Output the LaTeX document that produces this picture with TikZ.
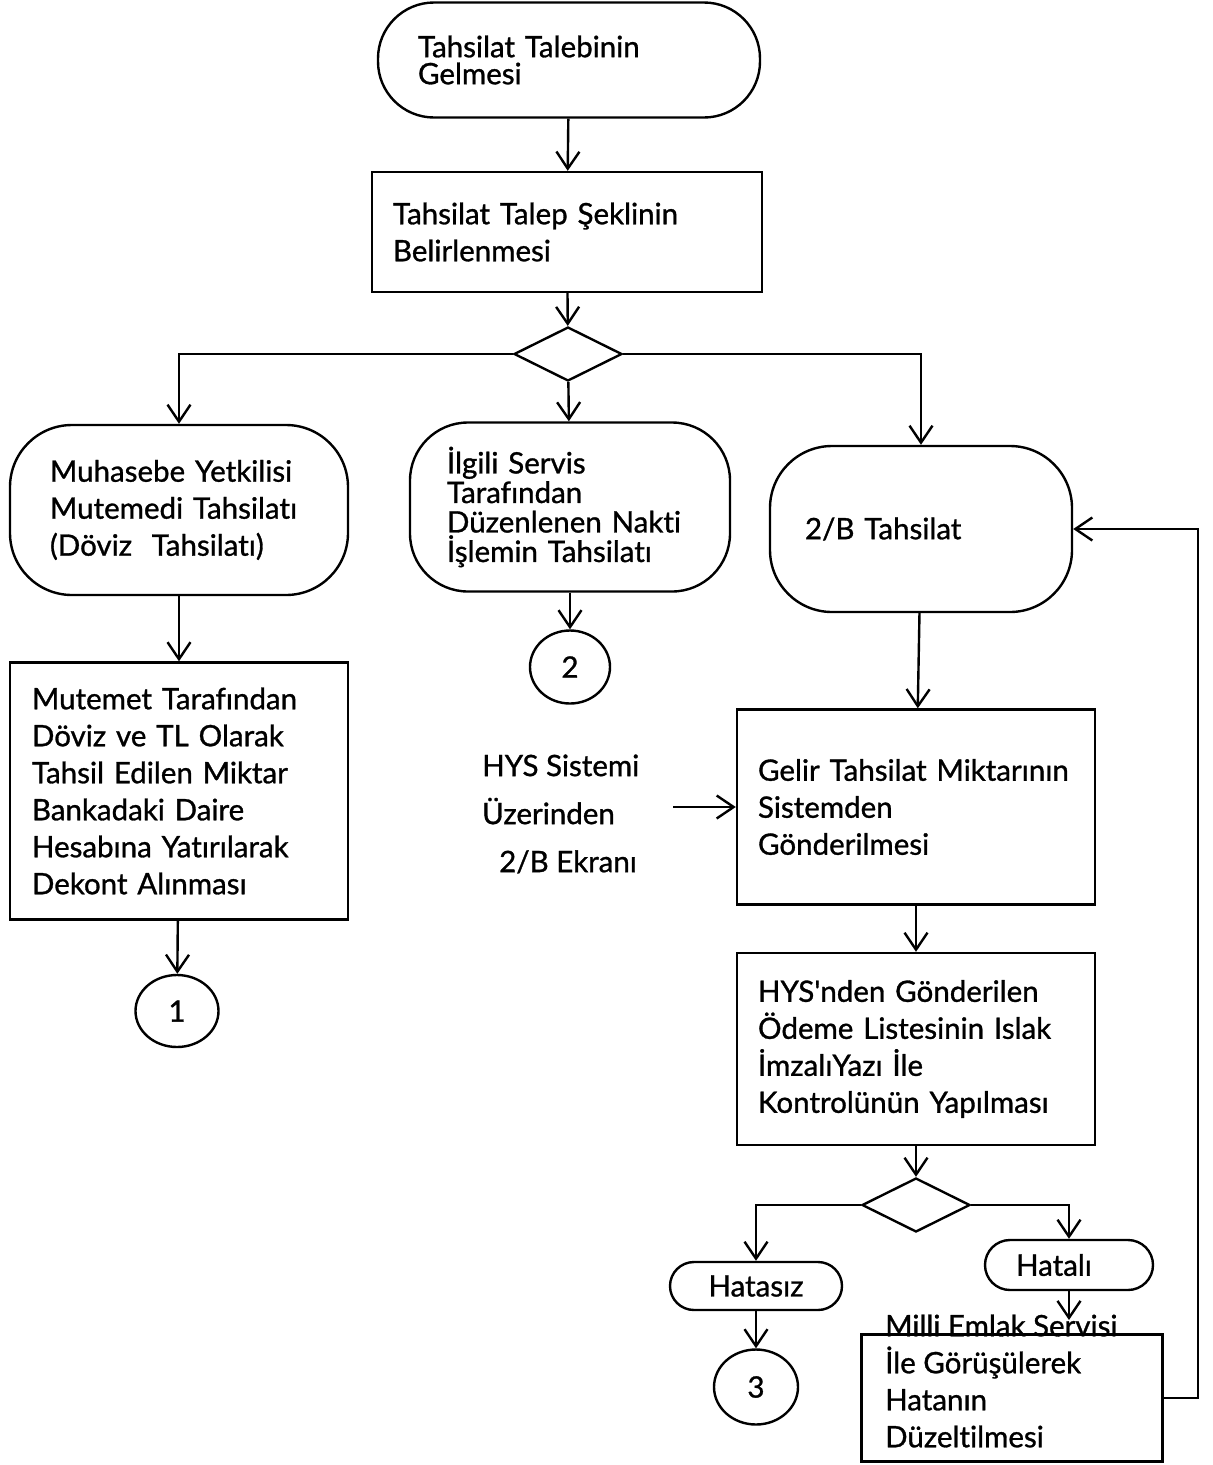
\documentclass[tikz,border=0pt]{standalone}
\usepackage{fontspec}
\setmainfont{Lato}[Ligatures={TeXOff,CommonOff},FakeBold=1]
\usetikzlibrary{arrows.meta,shapes.geometric}
\begin{document}
\begin{tikzpicture}[x=1pt,y=-1pt,line width=2.4pt,
every node/.style={font=\fontsize{29.5}{37}\selectfont},
flow/.style={-{Straight Barb[length=17pt,width=23pt]}},
procbox/.style={draw,rectangle,align=left,inner ysep=0pt},
termbox/.style={draw,rectangle,rounded corners=#1,align=left,inner ysep=0pt},
decision/.style={draw,diamond,shape aspect=2.1,minimum width=108pt,minimum height=54pt,inner sep=0pt},
connector/.style={draw,ellipse,inner sep=0pt}]
\fill [white] (0,0) rectangle (1213,1465);
\useasboundingbox (0,0) rectangle (1213,1465);
\node [termbox=56pt,minimum width=382pt,minimum height=115pt,text width=302pt,inner xsep=40pt,font=\fontsize{29.5}{27}\selectfont] (start) at (569,60) {Tahsilat Talebinin\\Gelmesi};
\node [procbox,minimum height=120pt,text width=348pt,inner xsep=21pt] (talep) at (567,232) {Tahsilat Talep Şeklinin\\Belirlenmesi};
\node [decision] (secim) at (568,354) {};
\node [termbox=62pt,minimum height=170pt,text width=258pt,inner xsep=40pt] (muhasebe) at (179,510) {Muhasebe Yetkilisi\\Mutemedi Tahsilatı\\(Döviz\ \ Tahsilatı)};
\node [procbox,minimum height=257pt,text width=294pt,inner xsep=22pt] (mutemet) at (179,791) {Mutemet Tarafından\\Döviz ve TL Olarak\\Tahsil Edilen Miktar\\Bankadaki Daire\\Hesabına Yatırılarak\\Dekont Alınması};
\node [connector,minimum width=83pt,minimum height=72pt] (bag1) at (177,1011) {1};
\node [termbox=58pt,minimum height=169pt,text width=246pt,inner xsep=37pt,font=\fontsize{29.5}{29.5}\selectfont] (ilgili) at (570,507) {İlgili Servis\\Tarafından\\Düzenlenen Nakti\\İşlemin Tahsilatı};
\node [connector,minimum width=80pt,minimum height=73pt] (bag2) at (570,667) {2};
\node [termbox=62pt,minimum height=166pt,text width=232pt,inner xsep=35pt] (ikib) at (921,529) {2/B Tahsilat};
\node [procbox,minimum height=195pt,text width=316pt,inner xsep=21pt] (gelir) at (916,807) {Gelir Tahsilat Miktarının\\Sistemden\\Gönderilmesi};
\node [anchor=west,align=left,inner sep=0pt,font=\fontsize{29.5}{48}\selectfont] (hys) at (481,814) {HYS Sistemi\\Üzerinden\\\hspace*{17pt}2/B Ekranı};
\coordinate (hysucu) at (673,807);
\node [procbox,minimum height=192pt,text width=316pt,inner xsep=21pt] (kontrol) at (916,1049) {HYS'nden Gönderilen\\Ödeme Listesinin Islak\\İmzalıYazı İle\\Kontrolünün Yapılması};
\node [decision] (sonuc) at (916,1205) {};
\node [termbox=24pt,minimum width=172pt,minimum height=48pt,inner sep=0pt] (hatasiz) at (756,1286) {Hatasız};
\node [termbox=25pt,minimum width=168pt,minimum height=50pt,inner sep=0pt] (hatali) at (1069,1265) {Hatalı\hspace*{30pt}};
\node [connector,minimum width=84pt,minimum height=75pt] (bag3) at (756,1387) {3};
\node [draw,minimum width=301pt,minimum height=127pt,inner sep=0pt] (duzelt) at (1012,1398) {};
\coordinate (hataliucu) at (1069,1320);
\draw [flow] (start) -- (talep);
\draw [flow] (talep) -- (secim);
\draw [flow] (secim.west) -| (muhasebe.north);
\draw [flow] (secim) -- (ilgili);
\draw [flow] (secim.east) -| (ikib.north);
\draw [flow] (muhasebe) -- (mutemet);
\draw [flow] (mutemet) -- (bag1);
\draw [flow] (ilgili) -- (bag2);
\draw [flow] (ikib) -- (gelir);
\draw [flow] (hysucu) -- (gelir.west);
\draw [flow] (gelir) -- (kontrol);
\draw [flow] (kontrol) -- (sonuc);
\draw [flow] (sonuc.west) -| (hatasiz.north);
\draw [flow] (sonuc.east) -| (hatali.north);
\draw [flow] (hatasiz) -- (bag3);
\draw [flow] (hatali) -- (hataliucu);
\draw [flow] (duzelt.east) -- ++(34,0) |- (ikib.east);
\node [anchor=west,align=left,inner sep=0pt] (duzelttxt) at (884,1381) {Milli Emlak Servisi\\İle Görüşülerek\\Hatanın\\Düzeltilmesi};
\end{tikzpicture}
\end{document}
